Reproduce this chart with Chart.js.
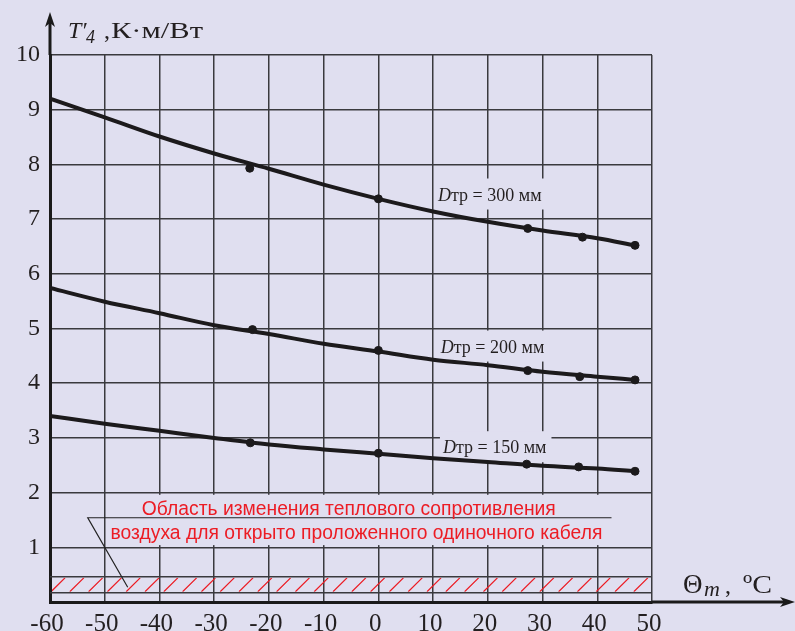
<!DOCTYPE html>
<html>
<head>
<meta charset="utf-8">
<script src="https://cdn.jsdelivr.net/npm/chart.js@4"></script>
<style>
  html, body { margin: 0; padding: 0; background: #e0dff0; overflow: hidden; }
  #wadah { width: 795px; height: 660px; }
</style>
</head>
<body>
<div id="wadah"><canvas id="grafik" width="795" height="660"></canvas></div>
<script>
// data
const suhu = [-60, -50, -40, -30, -20, -10, 0, 10, 20, 30, 40, 46.9];
const kurva300 = [9.20, 8.86, 8.51, 8.20, 7.92, 7.63, 7.37, 7.14, 6.95, 6.79, 6.65, 6.52];
const kurva200 = [5.74, 5.49, 5.28, 5.06, 4.90, 4.72, 4.58, 4.43, 4.33, 4.21, 4.12, 4.06];
const kurva150 = [3.40, 3.26, 3.13, 3.00, 2.88, 2.79, 2.71, 2.63, 2.56, 2.49, 2.44, 2.39];

const titikX300 = [-23.5, 0, 27.3, 37.3, 46.9];
const titikY300 = [7.93, 7.37, 6.83, 6.67, 6.52];
const titikX200 = [-23, 0, 27.3, 36.8, 46.9];
const titikY200 = [4.98, 4.60, 4.23, 4.12, 4.06];
const titikX150 = [-23.4, 0, 27.1, 36.6, 46.9];
const titikY150 = [2.91, 2.72, 2.52, 2.47, 2.39];

const labelDiameter = ['300', '200', '150'];
const tickX = [-60, -50, -40, -30, -20, -10, 0, 10, 20, 30, 40, 50];
const tickY = [0, 1, 2, 3, 4, 5, 6, 7, 8, 9, 10];

const LATAR = '#e0dff0';
const TEKS = '#231f20';
const GRID = '#3a3a3e';
const MERAH = '#ec1c24';
const SERIF = '"Liberation Serif", "Times New Roman", serif';

function gabung(xs, ys) {
  return xs.map((x, i) => ({ x: x, y: ys[i] }));
}

function kurva(data) {
  return {
    type: 'line', data: data, borderColor: '#1c1a1c', borderWidth: 4,
    pointRadius: 0, cubicInterpolationMode: 'monotone', fill: false
  };
}

function titik(data) {
  return {
    type: 'scatter', data: data, backgroundColor: '#1c1a1c', borderColor: '#1c1a1c',
    pointRadius: 4, showLine: false
  };
}

// teks dengan lebar tertentu (huruf di gambar asli lebih lebar)
function teksLebar(ctx, s, x, y, lebar) {
  const w = ctx.measureText(s).width;
  ctx.save();
  ctx.translate(x, y);
  ctx.scale(lebar / w, 1);
  ctx.fillText(s, 0, 0);
  ctx.restore();
}

const hiasan = {
  id: 'hiasan',
  beforeDatasetsDraw(chart) {
    const { ctx, chartArea: a, scales: { x: sx, y: sy } } = chart;
    ctx.save();

    // kotak keterangan menutupi grid
    const kx1 = sx.getPixelForValue(-49.5), kx2 = sx.getPixelForValue(49.6);
    const ky1 = sy.getPixelForValue(1.96), ky2 = sy.getPixelForValue(1.04);
    ctx.fillStyle = LATAR;
    ctx.fillRect(kx1, ky1, kx2 - kx1, ky2 - ky1);

    // daerah arsiran
    const yA = sy.getPixelForValue(0.46), yB = sy.getPixelForValue(0.17);
    ctx.strokeStyle = GRID;
    ctx.lineWidth = 1.5;
    ctx.beginPath();
    ctx.moveTo(a.left, yA); ctx.lineTo(a.right, yA);
    ctx.moveTo(a.left, yB); ctx.lineTo(a.right, yB);
    ctx.stroke();

    ctx.save();
    ctx.beginPath();
    ctx.rect(a.left + 2, yA + 1, a.right - a.left - 3, yB - yA - 2);
    ctx.clip();
    ctx.strokeStyle = MERAH;
    ctx.lineWidth = 1.3;
    ctx.beginPath();
    for (let px = a.left + 1; px < a.right; px += 18.8) {
      ctx.moveTo(px, yB - 1);
      ctx.lineTo(px + 14, yA + 1);
    }
    ctx.stroke();
    ctx.restore();

    // garis penunjuk
    ctx.strokeStyle = '#222';
    ctx.lineWidth = 1.2;
    ctx.beginPath();
    ctx.moveTo(sx.getPixelForValue(42.6), sy.getPixelForValue(1.54));
    ctx.lineTo(sx.getPixelForValue(-53.1), sy.getPixelForValue(1.54));
    ctx.lineTo(sx.getPixelForValue(-45.8), sy.getPixelForValue(0.27));
    ctx.stroke();

    // teks merah
    ctx.fillStyle = MERAH;
    ctx.font = '19.3px "Liberation Sans", Arial, sans-serif';
    ctx.textAlign = 'center';
    ctx.textBaseline = 'alphabetic';
    ctx.fillText('Область изменения теплового сопротивления', sx.getPixelForValue(-5.4), sy.getPixelForValue(1.59));
    ctx.fillText('воздуха для открыто проложенного одиночного кабеля', sx.getPixelForValue(-4.0), sy.getPixelForValue(1.15));

    // label kurva
    const posisi = [[10.9, 7.34], [11.4, 4.56], [11.8, 2.72]];
    ctx.textAlign = 'left';
    labelDiameter.forEach((d, i) => {
      const x0 = sx.getPixelForValue(posisi[i][0]);
      const y0 = sy.getPixelForValue(posisi[i][1]);
      ctx.font = 'italic 18px ' + SERIF;
      const wD = ctx.measureText('D').width;
      ctx.font = '18px ' + SERIF;
      const sisa = 'тр = ' + d + ' мм';
      const wS = ctx.measureText(sisa).width;
      ctx.fillStyle = LATAR;
      ctx.fillRect(x0 - 3, y0 - 22, wD + wS + 8, 31);
      ctx.fillStyle = TEKS;
      ctx.font = 'italic 18px ' + SERIF;
      ctx.fillText('D', x0, y0);
      ctx.font = '18px ' + SERIF;
      ctx.fillText(sisa, x0 + wD, y0);
    });

    ctx.restore();
  },
  afterDraw(chart) {
    const { ctx, chartArea: a } = chart;
    ctx.save();
    ctx.fillStyle = '#1a1a1a';
    ctx.strokeStyle = '#1a1a1a';
    ctx.lineWidth = 3;

    // panah sumbu y
    ctx.beginPath();
    ctx.moveTo(a.left, a.top);
    ctx.lineTo(a.left, 20);
    ctx.stroke();
    ctx.beginPath();
    ctx.moveTo(a.left, 12);
    ctx.lineTo(a.left + 5, 27);
    ctx.lineTo(a.left, 23);
    ctx.lineTo(a.left - 5, 27);
    ctx.closePath();
    ctx.fill();

    // panah sumbu x
    ctx.beginPath();
    ctx.moveTo(a.right, a.bottom);
    ctx.lineTo(786, a.bottom);
    ctx.stroke();
    ctx.beginPath();
    ctx.moveTo(795, a.bottom);
    ctx.lineTo(780, a.bottom - 5);
    ctx.lineTo(784, a.bottom);
    ctx.lineTo(780, a.bottom + 5);
    ctx.closePath();
    ctx.fill();

    // judul sumbu
    ctx.fillStyle = TEKS;
    ctx.textAlign = 'left';
    ctx.textBaseline = 'alphabetic';
    ctx.font = 'italic 24px ' + SERIF;
    ctx.fillText('T′', a.left + 18, 38);
    ctx.font = 'italic 18px ' + SERIF;
    ctx.fillText('4', a.left + 36, 43);
    ctx.font = '24px ' + SERIF;
    ctx.fillText(',', a.left + 54, 38);
    ctx.font = '23px ' + SERIF;
    teksLebar(ctx, 'К·м/Вт', a.left + 61, 38, 92);

    const yb = a.bottom - 9;
    ctx.font = '27px ' + SERIF;
    ctx.fillText('Θ', a.right + 31, yb);
    ctx.font = 'italic 22px ' + SERIF;
    ctx.fillText('m', a.right + 52, yb + 3);
    ctx.font = '24px ' + SERIF;
    ctx.fillText(',', a.right + 73, yb);
    ctx.font = '26px ' + SERIF;
    teksLebar(ctx, 'ºC', a.right + 91, yb, 29);

    ctx.restore();
  }
};

new Chart(document.getElementById('grafik'), {
  data: {
    datasets: [
      kurva(gabung(suhu, kurva300)),
      kurva(gabung(suhu, kurva200)),
      kurva(gabung(suhu, kurva150)),
      titik(gabung(titikX300, titikY300)),
      titik(gabung(titikX200, titikY200)),
      titik(gabung(titikX150, titikY150))
    ]
  },
  options: {
    responsive: false,
    animation: false,
    layout: { padding: { top: 55, right: 143, left: 0, bottom: 0 } },
    plugins: { legend: { display: false }, tooltip: { enabled: false } },
    scales: {
      x: {
        type: 'linear', min: -60, max: 50,
        afterFit: (s) => { s.height = 58; },
        afterBuildTicks: (s) => { s.ticks = tickX.map(v => ({ value: v })); },
        grid: { color: GRID, lineWidth: 1.5, drawTicks: false },
        border: { display: true, color: '#1a1a1a', width: 3 },
        ticks: { color: TEKS, padding: 7, labelOffset: -3, font: { family: SERIF, size: 25 }, maxRotation: 0 }
      },
      y: {
        type: 'linear', min: 0, max: 10,
        afterFit: (s) => { s.width = 50; },
        afterBuildTicks: (s) => { s.ticks = tickY.map(v => ({ value: v })); },
        grid: { color: GRID, lineWidth: 1.5, drawTicks: false },
        border: { display: true, color: '#1a1a1a', width: 3 },
        ticks: { color: TEKS, padding: 10, font: { family: SERIF, size: 24 },
          callback: (v) => v === 0 ? '' : v }
      }
    }
  },
  plugins: [hiasan]
});
</script>
</body>
</html>
